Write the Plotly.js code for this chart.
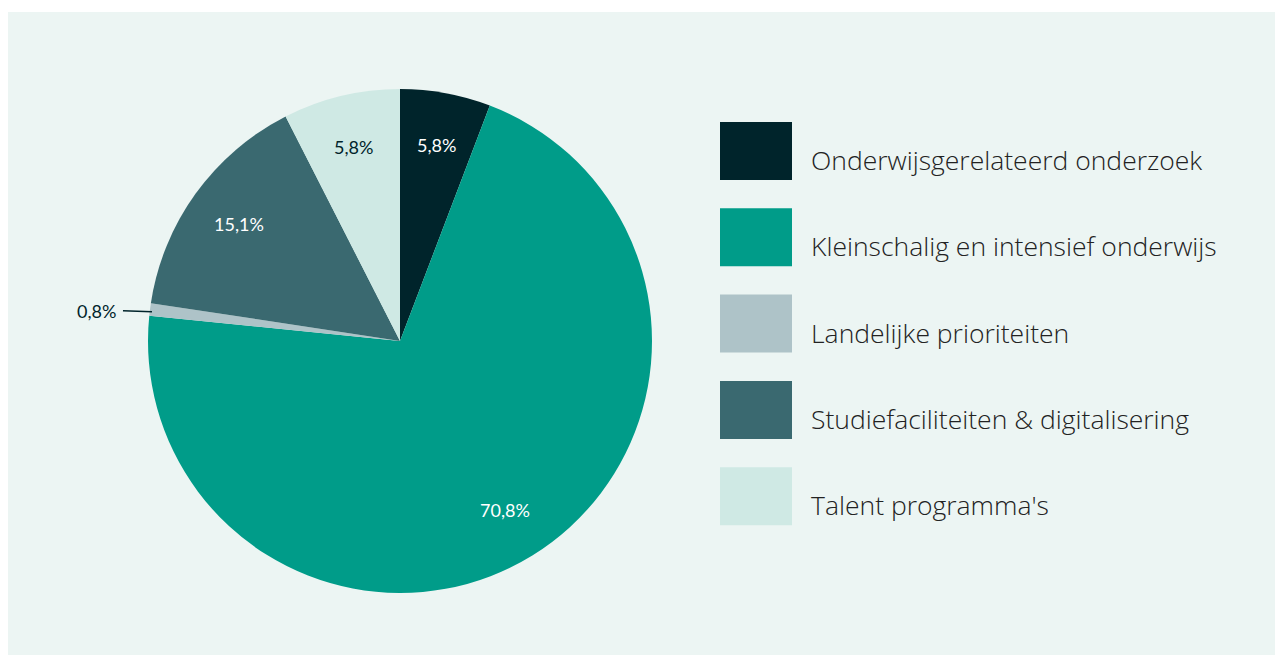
<!DOCTYPE html>
<html>
<head>
<meta charset="utf-8">
<script src="https://cdn.plot.ly/plotly-3.0.1.min.js"></script>
<style>html,body{margin:0;padding:0;background:#fff;}#chart{width:1282px;height:661px;}</style>
</head>
<body>
<div id="chart"></div>
<script>
const categories = ["Onderwijsgerelateerd onderzoek", "Kleinschalig en intensief onderwijs", "Landelijke prioriteiten", "Studiefaciliteiten & digitalisering", "Talent programma's"];
const values = [5.8, 70.8, 0.8, 15.1, 7.5];
const valueLabels = ["5,8%", "70,8%", "0,8%", "15,1%", "5,8%"];
const colors = ["#00242B", "#009C89", "#AEC3C8", "#3A6970", "#CFE9E4"];
const labelColors = ["#ffffff", "#ffffff", "#00242B", "#ffffff", "#00242B"];
const labelOutside = [false, false, true, false, false];

const W = 1282, H = 661;
const cx = 400, cy = 341, R = 252;
const dom = {x: [(cx - R) / W, (cx + R) / W], y: [(H - cy - R) / H, (H - cy + R) / H]};

const traces = [{
  type: "pie", labels: categories, values: values, sort: false, direction: "clockwise",
  rotation: 0, domain: dom, hoverinfo: "none", showlegend: false,
  marker: {colors: colors, line: {width: 0}},
  textinfo: "none"
}];

const shapes = [{type: "rect", xref: "paper", yref: "paper", x0: 8 / W, x1: 1275 / W, y0: 1 - 655 / H, y1: 1 - 12 / H,
  fillcolor: "#ECF5F3", line: {width: 0}, layer: "below"}];
const annotations = [];

// value labels placed along each slice's mid angle
const total = values.reduce((a, b) => a + b, 0);
let cum = 0;
values.forEach((v, i) => {
  const mid = (cum + v / 2) / total * 2 * Math.PI;
  cum += v;
  const sx = Math.sin(mid), sy = Math.cos(mid);
  if (labelOutside[i]) {
    const px = cx + (R - 2) * sx, py = cy - (R - 2) * sy + 2;
    annotations.push({xref: "paper", yref: "paper", x: px / W, y: 1 - py / H,
      showarrow: true, arrowhead: 0, arrowwidth: 1.5, arrowcolor: labelColors[i],
      ax: -29, ay: -1, xanchor: "right", yanchor: "middle", borderpad: 6,
      text: valueLabels[i], font: {family: "Lato", size: 18, color: labelColors[i]}});
  } else {
    const rr = 0.79 * R;
    const px = cx + rr * sx, py = cy - rr * sy;
    annotations.push({xref: "paper", yref: "paper", x: px / W, y: 1 - py / H,
      showarrow: false, xanchor: "center", yanchor: "middle",
      text: valueLabels[i], font: {family: "Lato", size: 18, color: labelColors[i]}});
  }
});

const legX0 = 720, legW = 72, legH = 58, legTop0 = 122, legStep = 86.3;
categories.forEach((c, i) => {
  const top = legTop0 + i * legStep;
  shapes.push({type: "rect", xref: "paper", yref: "paper", x0: legX0 / W, x1: (legX0 + legW) / W,
    y0: 1 - (top + legH) / H, y1: 1 - top / H, fillcolor: colors[i], line: {width: 0}});
  annotations.push({xref: "paper", yref: "paper", x: 809 / W, y: 1 - (top + legH / 2 + 9) / H,
    xanchor: "left", yanchor: "middle", showarrow: false, text: c,
    font: {family: "Open Sans", size: 26.5, color: "#222222", weight: 300}});
});

const layout = {
  width: W, height: H, margin: {l: 0, r: 0, t: 0, b: 0},
  paper_bgcolor: "#ffffff", plot_bgcolor: "rgba(0,0,0,0)",
  shapes: shapes, annotations: annotations, showlegend: false
};
Plotly.newPlot("chart", traces, layout, {displayModeBar: false, staticPlot: true});
</script>
</body>
</html>
